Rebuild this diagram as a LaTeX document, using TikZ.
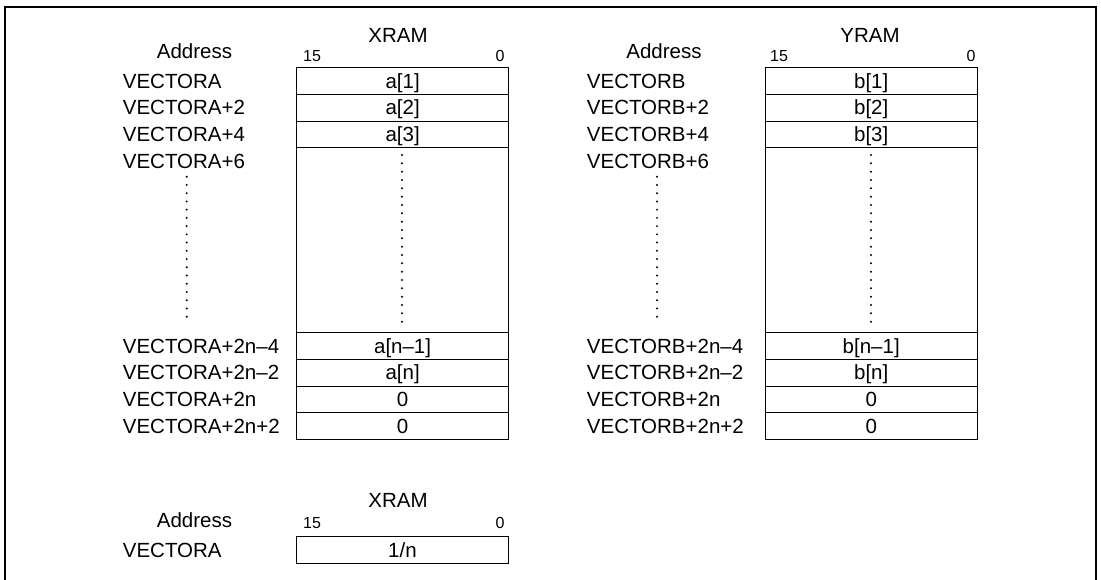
\documentclass[tikz,border=0pt]{standalone}
\usepackage{fontspec}
\setmainfont{Liberation Sans}
\begin{document}
\begin{tikzpicture}[x=1pt,y=-1pt,
  lbl/.style={inner sep=0pt,font=\fontsize{20.5}{22}\selectfont,text height=14.68pt,text depth=0pt},
  addr/.style={lbl,anchor=west},
  bit/.style={inner sep=0pt,font=\fontsize{16}{17}\selectfont,text height=11.46pt,text depth=0pt},
  cell/.style={draw,line width=0.9pt,minimum width=212pt,minimum height=26.7pt,inner sep=0pt,font=\fontsize{20.5}{22}\selectfont,text height=14.68pt,text depth=0pt},
  bigcell/.style={draw,line width=0.9pt,minimum width=212pt,minimum height=185pt,inner sep=0pt},
  dot/.style={fill=black,draw=none}
]
\useasboundingbox (0,0) rectangle (1101,579);
% outer frame
\draw[line width=2pt] (4.8,585) -- (4.8,6.5) -- (1096.2,6.5) -- (1096.2,585);

% ===== XRAM (vector a) =====
\node[lbl] (xtitle) at (398,35) {XRAM};
\node[lbl] (xaddr) at (194.5,51) {Address};
\node[bit] (x15) at (312,56) {15};
\node[bit] (x0) at (500,56) {0};

\node[cell] (a1) at (402.6,81) {a[1]};
\node[cell] (a2) at (402.6,107.65) {a[2]};
\node[cell] (a3) at (402.6,134.35) {a[3]};
\node[bigcell] (adots) at (402.6,240.2) {};
\node[cell] (an1) at (402.6,346) {a[n–1]};
\node[cell] (an) at (402.6,372.65) {a[n]};
\node[cell] (az1) at (402.6,399.35) {0};
\node[cell] (az2) at (402.6,426) {0};

\node[addr] (la1) at (122.7,81) {VECTORA};
\node[addr] (la2) at (122.7,107.65) {VECTORA+2};
\node[addr] (la3) at (122.7,134.35) {VECTORA+4};
\node[addr] (la4) at (122.7,161) {VECTORA+6};
\node[addr] (lan1) at (122.7,346) {VECTORA+2n–4};
\node[addr] (lan) at (122.7,372.65) {VECTORA+2n–2};
\node[addr] (laz1) at (122.7,399.35) {VECTORA+2n};
\node[addr] (laz2) at (122.7,426) {VECTORA+2n+2};

\foreach \i in {0,...,20} \fill[dot] (402,155+8.333*\i) circle (1.1pt);
\foreach \i in {0,...,17} \fill[dot] (186.7,176.7+8.235*\i) circle (1.1pt);

% ===== YRAM (vector b) =====
\node[lbl] (ytitle) at (870,35) {YRAM};
\node[lbl] (yaddr) at (664,51) {Address};
\node[bit] (y15) at (779,56) {15};
\node[bit] (y0) at (971,56) {0};

\node[cell] (b1) at (871.2,81) {b[1]};
\node[cell] (b2) at (871.2,107.65) {b[2]};
\node[cell] (b3) at (871.2,134.35) {b[3]};
\node[bigcell] (bdots) at (871.2,240.2) {};
\node[cell] (bn1) at (871.2,346) {b[n–1]};
\node[cell] (bn) at (871.2,372.65) {b[n]};
\node[cell] (bz1) at (871.2,399.35) {0};
\node[cell] (bz2) at (871.2,426) {0};

\node[addr] (lb1) at (586.7,81) {VECTORB};
\node[addr] (lb2) at (586.7,107.65) {VECTORB+2};
\node[addr] (lb3) at (586.7,134.35) {VECTORB+4};
\node[addr] (lb4) at (586.7,161) {VECTORB+6};
\node[addr] (lbn1) at (586.7,346) {VECTORB+2n–4};
\node[addr] (lbn) at (586.7,372.65) {VECTORB+2n–2};
\node[addr] (lbz1) at (586.7,399.35) {VECTORB+2n};
\node[addr] (lbz2) at (586.7,426) {VECTORB+2n+2};

\foreach \i in {0,...,20} \fill[dot] (871,155+8.333*\i) circle (1.1pt);
\foreach \i in {0,...,17} \fill[dot] (657,176.7+8.235*\i) circle (1.1pt);

% ===== XRAM (1/n) =====
\node[lbl] (ntitle) at (398,500) {XRAM};
\node[lbl] (naddr) at (194.5,519.7) {Address};
\node[bit] (n15) at (312,523) {15};
\node[bit] (n0) at (500,523) {0};
\node[cell] (inv) at (402.4,550) {1/n};
\node[addr] (lv) at (122.7,550) {VECTORA};
\end{tikzpicture}
\end{document}
